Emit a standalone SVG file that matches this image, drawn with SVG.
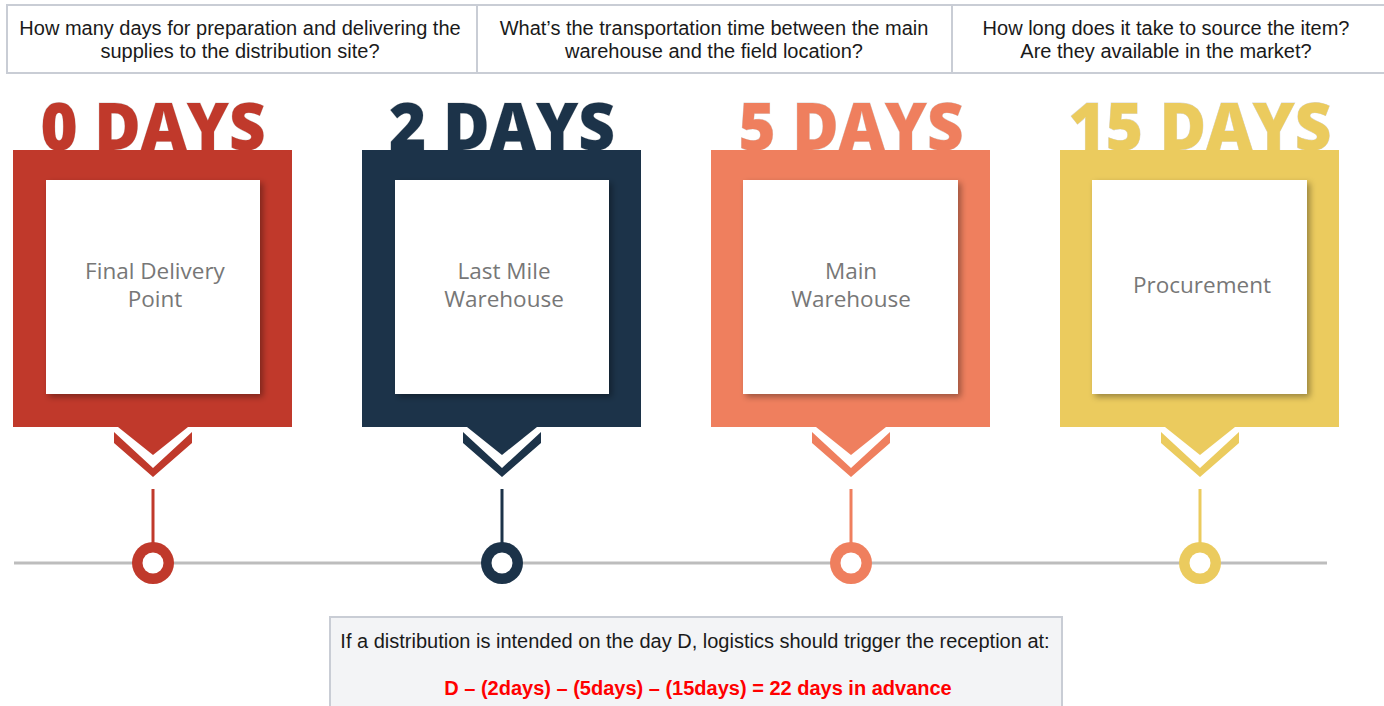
<svg xmlns="http://www.w3.org/2000/svg" width="1384" height="706" viewBox="0 0 1384 706">
<defs>
<style>
.q{font-family:"Liberation Sans",Arial,sans-serif;font-size:20px;fill:#1a1a1a;text-anchor:middle}
.big{font-family:"Open Sans","Noto Sans",sans-serif;font-weight:800;font-size:66px;text-anchor:middle;stroke:#d9d9d9;stroke-width:0.8;paint-order:stroke}
.lbl{font-family:"Open Sans","Noto Sans",sans-serif;font-size:22.5px;fill:#777;text-anchor:middle}
.cell{fill:#fff;stroke:#c9cdd5;stroke-width:2}
.inner{fill:#fff}
.tl{stroke:#bdbdbd;stroke-width:3}
.note{font-family:"Liberation Sans",Arial,sans-serif;font-size:20px;text-anchor:middle}
</style>
<filter id="sh" x="-10%" y="-10%" width="125%" height="125%">
<feDropShadow dx="3" dy="3" stdDeviation="3" flood-color="#000" flood-opacity="0.35"/>
</filter>
</defs>
<rect width="1384" height="706" fill="#fff"/>

<g id="questions">
<rect class="cell" x="7" y="5" width="470" height="68"/>
<rect class="cell" x="477" y="5" width="475" height="68"/>
<rect class="cell" x="952" y="5" width="440" height="68"/>
<text class="q" x="240" y="35">How many days for preparation and delivering the</text>
<text class="q" x="240" y="58">supplies to the distribution site?</text>
<text class="q" x="714" y="35">What’s the transportation time between the main</text>
<text class="q" x="714" y="58">warehouse and the field location?</text>
<text class="q" x="1166" y="35">How long does it take to source the item?</text>
<text class="q" x="1166" y="58">Are they available in the market?</text>
</g>

<g id="connectors">
<line class="tl" x1="14" y1="563" x2="1327" y2="563"/>
</g>

<g id="node-final-delivery">
<text class="big" x="153" y="150" fill="#c0392b" textLength="225" lengthAdjust="spacingAndGlyphs">0 DAYS</text>
<rect x="13" y="150" width="279" height="277" fill="#c0392b"/>
<rect class="inner" x="46" y="180" width="214" height="214" filter="url(#sh)"/>
<text class="lbl" x="155" y="279">Final Delivery</text>
<text class="lbl" x="155" y="307">Point</text>
<polygon points="118,427 188,427 153,455" fill="#c0392b"/>
<polygon points="114,432 153,468 192,432 192,443 153,477 114,443" fill="#c0392b"/>
<line x1="153" y1="489" x2="153" y2="545" stroke="#c0392b" stroke-width="3"/>
<circle cx="153" cy="563" r="21" fill="#c0392b"/>
<circle cx="153" cy="563" r="10.5" fill="#fff"/>
</g>

<g id="node-last-mile">
<text class="big" x="502" y="150" fill="#1c3349" textLength="226" lengthAdjust="spacingAndGlyphs">2 DAYS</text>
<rect x="362" y="150" width="279" height="277" fill="#1c3349"/>
<rect class="inner" x="395" y="180" width="214" height="214" filter="url(#sh)"/>
<text class="lbl" x="504" y="279">Last Mile</text>
<text class="lbl" x="504" y="307">Warehouse</text>
<polygon points="467,427 537,427 502,455" fill="#1c3349"/>
<polygon points="463,432 502,468 541,432 541,443 502,477 463,443" fill="#1c3349"/>
<line x1="502" y1="489" x2="502" y2="545" stroke="#1c3349" stroke-width="3"/>
<circle cx="502" cy="563" r="21" fill="#1c3349"/>
<circle cx="502" cy="563" r="10.5" fill="#fff"/>
</g>

<g id="node-main-warehouse">
<text class="big" x="851" y="150" fill="#ef7f5e" textLength="225" lengthAdjust="spacingAndGlyphs">5 DAYS</text>
<rect x="711" y="150" width="279" height="277" fill="#ef7f5e"/>
<rect class="inner" x="743" y="180" width="215" height="214" filter="url(#sh)"/>
<text class="lbl" x="851" y="279">Main</text>
<text class="lbl" x="851" y="307">Warehouse</text>
<polygon points="816,427 886,427 851,455" fill="#ef7f5e"/>
<polygon points="812,432 851,468 890,432 890,443 851,477 812,443" fill="#ef7f5e"/>
<line x1="851" y1="489" x2="851" y2="545" stroke="#ef7f5e" stroke-width="3"/>
<circle cx="851" cy="563" r="21" fill="#ef7f5e"/>
<circle cx="851" cy="563" r="10.5" fill="#fff"/>
</g>

<g id="node-procurement">
<text class="big" x="1200" y="150" fill="#ebcb5e" textLength="263" lengthAdjust="spacingAndGlyphs">15 DAYS</text>
<rect x="1060" y="150" width="279" height="277" fill="#ebcb5e"/>
<rect class="inner" x="1092" y="180" width="215" height="214" filter="url(#sh)"/>
<text class="lbl" x="1202" y="293">Procurement</text>
<polygon points="1165,427 1235,427 1200,455" fill="#ebcb5e"/>
<polygon points="1161,432 1200,468 1239,432 1239,443 1200,477 1161,443" fill="#ebcb5e"/>
<line x1="1200" y1="489" x2="1200" y2="545" stroke="#ebcb5e" stroke-width="3"/>
<circle cx="1200" cy="563" r="21" fill="#ebcb5e"/>
<circle cx="1200" cy="563" r="10.5" fill="#fff"/>
</g>

<g id="note">
<rect x="330" y="617" width="732" height="100" fill="#f3f4f6" stroke="#c9cdd5" stroke-width="2"/>
<text class="note" x="695" y="648" fill="#1a1a1a">If a distribution is intended on the day D, logistics should trigger the reception at:</text>
<text class="note" x="698" y="695" fill="#ff0000" font-weight="bold">D – (2days) – (5days) – (15days) = 22 days in advance</text>
</g>
</svg>
